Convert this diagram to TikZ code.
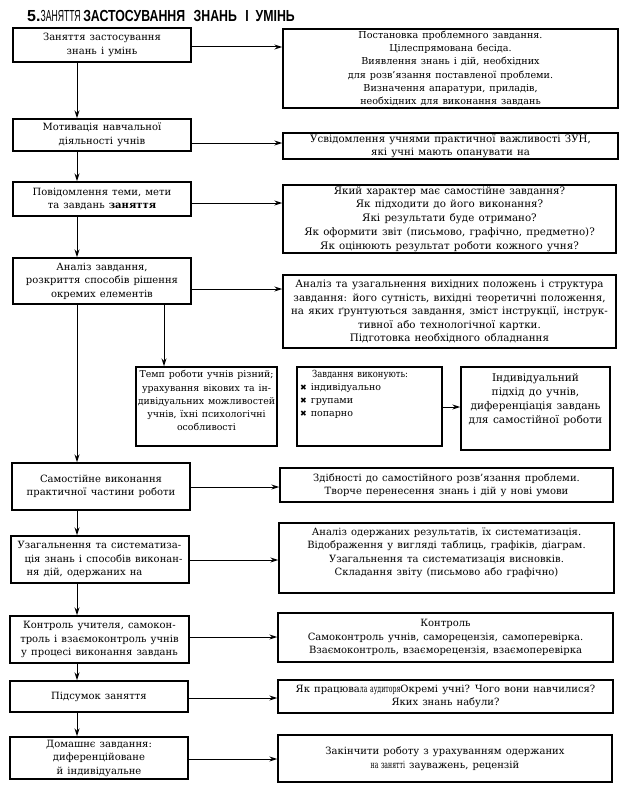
\documentclass[tikz,border=0pt]{standalone}
\usepackage{fontspec}
\setmainfont{DejaVu Serif}[WordSpace=1.3]
\newfontfamily\titlefont{Liberation Sans}
\newfontfamily\symfont{DejaVu Sans}
\usetikzlibrary{arrows.meta,calc}
\newcommand\cnd[1]{\scalebox{0.62}[1]{#1}}
\newcommand\xmark{{\symfont\fontsize{8}{8}\selectfont ✖}}
\tikzset{
  frame/.style={draw, line width=1.4pt, inner sep=0pt},
  box/.style={frame, align=center, font=\fontsize{10}{13.5}\selectfont},
  txt/.style={inner sep=0pt, align=center, font=\fontsize{10}{13.5}\selectfont},
  arr/.style={-{Stealth[length=8pt,width=5pt]}, line width=1pt},
}
\begin{document}
\begin{tikzpicture}[x=1pt,y=-1pt]
\useasboundingbox (0,0) rectangle (628,800);
\fill[white] (0,0) rectangle (628,800);
% title
\node[anchor=west, inner sep=0pt, font=\titlefont\fontsize{16}{16}\selectfont] (title) at (27,16)
  {\bfseries 5.\scalebox{0.54}[1]{\mdseries ЗАНЯТТЯ}\,\scalebox{0.77}[1]{ЗАСТОСУВАННЯ\hspace{11pt}ЗНАНЬ\hspace{11pt}І\hspace{9pt}УМІНЬ}};
% left column
\node[box, minimum width=178pt, minimum height=34pt] (L1) at (102,45) {Заняття застосування\\знань і умінь};
\node[box, minimum width=178pt, minimum height=32pt] (L2) at (102,135) {Мотивація навчальної\\діяльності учнів};
\node[box, minimum width=178pt, minimum height=34pt] (L3) at (102,199) {Повідомлення теми, мети\\та завдань \textbf{заняття}};
\node[box, minimum width=178pt, minimum height=46pt] (L4) at (102,281) {Аналіз завдання,\\розкриття способів рішення\\окремих елементів};
\node[box, minimum width=178pt, minimum height=47pt] (L5) at (101,486.5) {Самостійне виконання\\практичної частини роботи};
\node[box, minimum width=178pt, minimum height=47pt, align=left] (L6) at (100,559.5) {Узагальнення та систематиза-\\\hspace{7pt}ція знань і способів виконан-\\\hspace{9pt}ня дій, одержаних на};
\node[box, minimum width=179pt, minimum height=47pt] (L7) at (99.5,639.5) {Контроль учителя, самокон-\\троль і взаємоконтроль учнів\\у процесі виконання завдань};
\node[box, minimum width=178pt, minimum height=31pt] (L8) at (99,696.5) {Підсумок заняття};
\node[box, minimum width=178pt, minimum height=42pt] (L9) at (99,758) {Домашнє завдання:\\диференційоване\\й індивідуальне};
% right column
\node[box, minimum width=335pt, minimum height=79pt, font=\fontsize{9.6}{13.2}\selectfont] (R1) at (450.5,68.5) {Постановка проблемного завдання.\\Цілеспрямована бесіда.\\Виявлення знань і дій, необхідних\\для розв'язання поставленої проблеми.\\Визначення апаратури, приладів,\\необхідних для виконання завдань};
\node[box, minimum width=335pt, minimum height=26pt, font=\fontsize{10.2}{12.5}\selectfont] (R2) at (450.5,146) {Усвідомлення учнями практичної важливості ЗУН,\\які учні мають опанувати на\hspace{30pt}};
\node[box, minimum width=333pt, minimum height=68pt, font=\fontsize{10.3}{13.8}\selectfont] (R3) at (449.5,219) {Який характер має самостійне завдання?\\Як підходити до його виконання?\\Які результати буде отримано?\\Як оформити звіт (письмово, графічно, предметно)?\\Як оцінюють результат роботи кожного учня?};
\node[box, minimum width=333pt, minimum height=73pt, font=\fontsize{10.3}{13.5}\selectfont] (R4) at (449.5,311.5) {Аналіз та узагальнення вихідних положень і структура\\завдання: його сутність, вихідні теоретичні положення,\\на яких ґрунтуються завдання, зміст інструкції, інструк-\\тивної або технологічної картки.\\Підготовка необхідного обладнання};
% sub boxes
\node[frame, minimum width=141pt, minimum height=79pt] (A) at (206.5,406.5) {};
\node[txt, anchor=north, font=\fontsize{9.4}{13.2}\selectfont] (At) at ($(A.north)+(0,4)$) {Темп роботи учнів різний;\\урахування вікових та ін-\\дивідуальних можливостей\\учнів, їхні психологічні\\особливості};
\node[frame, minimum width=145pt, minimum height=79pt] (B) at (369.5,406.5) {};
\node[txt, anchor=north, font=\fontsize{9.8}{13}\selectfont] (Bh) at (360,370) {\scalebox{0.86}[1]{Завдання виконують:}};
\node[txt, anchor=north west, align=left, font=\fontsize{9.5}{13}\selectfont] (Bt) at (300,383) {\xmark\ індивідуально\\\xmark\ групами\\\xmark\ попарно};
\node[frame, minimum width=149pt, minimum height=83pt] (C) at (535.5,408.5) {};
\node[txt, anchor=north, font=\fontsize{10.6}{14}\selectfont] (Ct) at ($(C.north)+(0,7)$) {Індивідуальний\\підхід до учнів,\\диференціація завдань\\для самостійної роботи};
% lower right
\node[box, minimum width=333pt, minimum height=34pt] (R5) at (446.5,485) {Здібності до самостійного розв’язання проблеми.\\Творче перенесення знань і дій у нові умови};
\node[frame, minimum width=335pt, minimum height=70pt] (R6) at (446.5,558) {};
\node[txt, anchor=north] (R6t) at ($(R6.north)+(0,5)$) {Аналіз одержаних результатів, їх систематизація.\\Відображення у вигляді таблиць, графіків, діаграм.\\Узагальнення та систематизація висновків.\\Складання звіту (письмово або графічно)};
\node[box, minimum width=335pt, minimum height=49pt] (R7) at (445.5,637.5) {Контроль\hspace{55pt}\\Самоконтроль учнів, саморецензія, самоперевірка.\\Взаємоконтроль, взаєморецензія, взаємоперевірка};
\node[box, minimum width=335pt, minimum height=33pt] (R8) at (445.5,696.5) {Як працюва\cnd{ла аудиторя}Окремі учні? Чого вони навчилися?\\Яких знань набули?};
\node[box, minimum width=334pt, minimum height=47pt] (R9) at (445,758.5) {Закінчити роботу з урахуванням одержаних\\\cnd{на занятті} зауважень, рецензій};
% helper coordinates
\coordinate (vx) at (77,0);
\coordinate (vA) at (164,0);
\coordinate (y1) at (0,47);
\coordinate (y2) at (0,143);
\coordinate (y3) at (0,203);
\coordinate (y4) at (0,289);
\coordinate (yB) at (0,407);
\coordinate (y5) at (0,487);
\coordinate (y6) at (0,560);
\coordinate (y7) at (0,637);
\coordinate (y8) at (0,698);
\coordinate (y9) at (0,759);
% vertical arrows
\draw[arr] (L1.south -| vx) -- (L2.north -| vx);
\draw[arr] (L2.south -| vx) -- (L3.north -| vx);
\draw[arr] (L3.south -| vx) -- (L4.north -| vx);
\draw[arr] (L4.south -| vx) -- (L5.north -| vx);
\draw[arr] (L5.south -| vx) -- (L6.north -| vx);
\draw[arr] (L6.south -| vx) -- (L7.north -| vx);
\draw[arr] (L7.south -| vx) -- (L8.north -| vx);
\draw[arr] (L8.south -| vx) -- (L9.north -| vx);
\draw[arr] (L4.south -| vA) -- (A.north -| vA);
% horizontal arrows
\draw[arr] (L1.east |- y1) -- (R1.west |- y1);
\draw[arr] (L2.east |- y2) -- (R2.west |- y2);
\draw[arr] (L3.east |- y3) -- (R3.west |- y3);
\draw[arr] (L4.east |- y4) -- (R4.west |- y4);
\draw[arr] (B.east |- yB) -- (C.west |- yB);
\draw[arr] (L5.east |- y5) -- (R5.west |- y5);
\draw[arr] (L6.east |- y6) -- (R6.west |- y6);
\draw[arr] (L7.east |- y7) -- (R7.west |- y7);
\draw[arr] (L8.east |- y8) -- (R8.west |- y8);
\draw[arr] (L9.east |- y9) -- (R9.west |- y9);
\end{tikzpicture}
\end{document}
